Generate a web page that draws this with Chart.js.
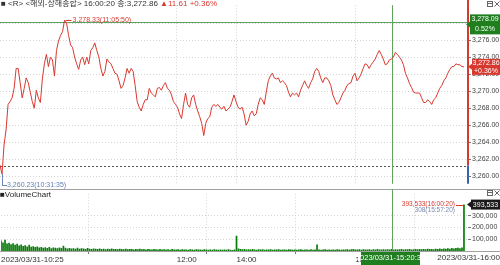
<!DOCTYPE html>
<html>
<head>
<meta charset="utf-8">
<script src="https://cdn.jsdelivr.net/npm/chart.js@4.4.0/dist/chart.umd.min.js"></script>
<style>
html, body { margin: 0; padding: 0; background: #fff; overflow: hidden; }
#wrap { position: relative; width: 500px; height: 265px; }
#wrap canvas { position: absolute; left: 0; }
</style>
</head>
<body>
<div id="wrap">
  <canvas id="price" width="500" height="189" style="top:0"></canvas>
  <canvas id="vol" width="500" height="76" style="top:189px"></canvas>
</div>
<script>
// minute prices, 상해종합 2023/03/31
const prices = [
  3261.30, 3260.23, 3263.67, 3265.44, 3268.44, 3268.78,
  3269.22, 3270.33, 3272.67, 3272.67, 3271.00, 3269.22, 3270.33, 3271.56,
  3271.00, 3269.89, 3268.78, 3268.00, 3270.11, 3269.22, 3268.67, 3271.44, 3273.22, 3274.33,
  3272.89, 3274.00, 3273.67, 3271.78,
  3274.78, 3275.89, 3276.56, 3277.00, 3278.33, 3278.00, 3276.56, 3275.44, 3275.11, 3274.00,
  3273.22, 3272.56, 3273.67, 3274.00, 3273.11, 3274.00, 3273.22, 3274.78, 3275.11, 3275.67,
  3274.78, 3274.00, 3272.67, 3271.78, 3272.33, 3273.78, 3273.44,
  3273.22, 3272.67, 3272.11, 3272.00, 3271.22, 3270.33, 3270.67, 3271.56, 3272.67, 3272.11,
  3272.67, 3272.33, 3270.67, 3268.78, 3268.11, 3267.67, 3268.44, 3269.00, 3269.00, 3270.33,
  3269.78, 3269.56, 3269.33, 3270.33, 3270.44, 3270.11, 3270.67, 3271.00, 3270.33, 3270.11,
  3269.56, 3268.78, 3268.44, 3268.11, 3267.33, 3266.78, 3268.44, 3269.78, 3268.44, 3268.11,
  3269.22, 3269.56, 3268.44, 3267.67, 3267.00, 3266.22, 3264.78, 3266.22, 3266.78, 3267.00,
  3268.11, 3268.44, 3268.22, 3268.44, 3268.11, 3267.89, 3268.22, 3267.67, 3267.89, 3268.11,
  3268.78, 3269.56, 3268.78, 3268.11, 3267.89, 3268.11, 3267.33, 3266.00, 3266.44, 3267.33,
  3267.67, 3267.11, 3267.33, 3268.44, 3269.22, 3269.00, 3268.44, 3269.89, 3271.22, 3271.78,
  3272.11, 3271.56, 3271.44, 3271.56, 3271.00, 3271.22, 3271.00, 3270.67, 3269.89, 3269.33,
  3269.78, 3269.56, 3269.78, 3269.33, 3270.11, 3270.67, 3271.22, 3270.67, 3270.33, 3271.00,
  3271.44, 3272.33, 3272.67, 3272.33, 3271.56, 3271.00, 3271.56, 3271.56, 3271.22, 3270.67,
  3269.56, 3269.00, 3268.44, 3268.67, 3269.22, 3269.78, 3270.11, 3270.67,
  3270.89, 3271.00, 3271.78, 3272.11, 3271.22, 3271.56, 3272.00, 3272.67, 3273.22, 3273.11,
  3272.67, 3273.11, 3273.44, 3273.78, 3274.33, 3274.78, 3274.33, 3273.78, 3273.11, 3273.22,
  3273.67, 3273.78, 3274.00, 3274.56, 3274.33, 3274.00, 3273.67, 3273.11, 3272.11, 3271.56,
  3270.89, 3270.44, 3269.89, 3269.78, 3269.78, 3269.78, 3269.22, 3268.67, 3268.67, 3269.00,
  3268.78, 3268.44, 3269.00, 3269.22, 3269.78, 3270.33, 3270.67, 3271.22, 3271.56, 3272.11,
  3272.56, 3272.89, 3272.89, 3273.22, 3273.11, 3273.11, 3272.89, 3272.86
];

const volumes = [
  88000, 72000, 95000, 64000, 70000, 58000, 66000, 52000, 61000, 47000,
  55000, 43000, 49000, 38000, 52000, 36000, 41000, 33000, 39000, 30000,
  34000, 28000, 31000, 26000, 33000, 24000, 29000, 27000, 23000, 30000,
  25000, 45000, 28000, 22000, 26000, 21000, 24000, 20000, 27000, 19000,
  23000, 21000, 18000, 25000, 20000, 17000, 22000, 19000, 16000, 21000,
  18000, 20000, 15000, 19000, 17000, 22000, 16000, 18000, 14000, 20000,
  17000, 15000, 19000, 14000, 18000, 16000, 13000, 17000, 15000, 19000,
  14000, 16000, 12000, 18000, 15000, 13000, 17000, 14000, 12000, 16000,
  13000, 15000, 12000, 14000, 11000, 16000, 13000, 12000, 15000, 11000,
  14000, 12000, 13000, 11000, 15000, 12000, 10000, 14000, 12000, 13000,
  11000, 15000, 12000, 10000, 13000, 11000, 14000, 12000, 10000, 13000,
  11000, 12000, 10000, 14000, 11000, 9000, 12000,
  130000,
  22000, 16000, 14000, 18000, 13000, 15000, 12000, 16000, 13000, 11000, 15000, 12000,
  14000, 11000, 13000, 12000, 15000, 10000, 13000, 12000, 14000, 11000,
  13000, 12000, 10000, 14000, 12000, 11000, 13000, 10000, 12000, 14000,
  11000, 13000, 12000, 10000, 14000, 11000, 12000, 55000, 13000, 11000,
  12000, 14000, 10000, 13000, 11000, 12000, 10000, 14000, 12000, 11000,
  13000, 12000, 15000, 11000, 14000, 16000, 13000, 12000, 15000, 11000,
  14000, 12000, 13000, 15000, 11000, 14000, 12000, 16000, 13000, 12000,
  15000, 13000, 14000, 12000, 16000, 13000, 15000, 12000, 14000, 16000,
  13000, 15000, 14000, 17000, 12000, 15000, 16000, 14000, 18000, 15000,
  17000, 14000, 19000, 16000, 18000, 15000, 20000, 17000, 22000, 18000,
  21000, 19000, 24000, 20000, 26000, 22000, 25000, 28000, 24000, 30000,
  393533
];

const xTickIdx = [0, 87.3, 117, 176];
const xTickLabels = ['2023/03/31-10:25', '12:00', '14:00', '15:00'];
const priceTicks = [3260, 3262, 3264, 3266, 3268, 3270, 3272, 3274, 3276, 3278];
const volTicks = [100000, 200000, 300000];

const prevClose = 3261.25;
const lastPrice = 3272.86;
const crossPrice = 3278.09;
const crossIdx = 194.3;
const xMax = 232;

const RED = '#d8392f', BLUE = '#3a62b0', GREEN_LINE = '#5da35d', GREEN_BOX = '#1f7f1f';
const FONT = '"Liberation Sans", Arial, "Noto Sans CJK KR", sans-serif';

Chart.defaults.font.family = FONT;
Chart.defaults.animation = false;

function hLine(ctx, x1, x2, y) { ctx.beginPath(); ctx.moveTo(x1, y); ctx.lineTo(x2, y); ctx.stroke(); }
function vLine(ctx, x, y1, y2) { ctx.beginPath(); ctx.moveTo(x, y1); ctx.lineTo(x, y2); ctx.stroke(); }

// box on the right axis with little arrow to the left
function axisBox(ctx, x, yTop, h, color, lines, size) {
  ctx.fillStyle = color;
  ctx.fillRect(x, yTop, 500 - x, h);
  ctx.beginPath();
  ctx.moveTo(x, yTop + h / 2 - 3); ctx.lineTo(x - 4, yTop + h / 2); ctx.lineTo(x, yTop + h / 2 + 3);
  ctx.fill();
  ctx.fillStyle = '#fff';
  ctx.font = size + 'px ' + FONT;
  ctx.textAlign = 'center'; ctx.textBaseline = 'middle';
  const step = h / lines.length;
  lines.forEach((t, i) => ctx.fillText(t, x + (500 - x) / 2, yTop + step * (i + 0.5)));
}

function icons(ctx, y) {
  ctx.strokeStyle = '#666'; ctx.lineWidth = 1;
  ctx.strokeRect(487.5, y + 0.5, 5, 5);
  hLine(ctx, 488, 492, y + 2.5);
  ctx.beginPath();
  ctx.moveTo(494.5, y + 0.5); ctx.lineTo(499.5, y + 5.5);
  ctx.moveTo(499.5, y + 0.5); ctx.lineTo(494.5, y + 5.5);
  ctx.stroke();
}

const xGridColor = c => (c.tick && c.tick.value === 0) ? 'rgba(0,0,0,0)' : '#d4d4d4';

const priceDeco = {
  id: 'priceDeco',
  beforeDatasetsDraw(chart) {
    const { ctx, chartArea: a, scales: { x, y } } = chart;
    ctx.save();
    ctx.lineWidth = 1;
    ctx.strokeStyle = '#555';
    ctx.setLineDash([2, 2]);
    const yc = Math.round(y.getPixelForValue(prevClose)) + 0.5;
    hLine(ctx, a.left, a.right, yc);
    ctx.setLineDash([]);
    ctx.strokeStyle = GREEN_LINE;
    const yg = Math.round(y.getPixelForValue(crossPrice)) + 0.5;
    hLine(ctx, a.left, a.right, yg);
    const xg = Math.round(x.getPixelForValue(crossIdx)) + 0.5;
    vLine(ctx, xg, a.top, a.bottom);
    ctx.restore();
  },
  afterDraw(chart) {
    const { ctx, chartArea: a, scales: { x, y } } = chart;
    ctx.save();
    // title
    ctx.font = '8px ' + FONT;
    ctx.textBaseline = 'middle'; ctx.textAlign = 'left';
    const t1 = '■ <R> <해외-상해종합> 16:00:20 종:3,272.86 ';
    ctx.fillStyle = '#333';
    ctx.fillText(t1, 1, 4);
    ctx.fillStyle = RED;
    ctx.fillText('▲11.61 +0.36%', 1 + ctx.measureText(t1).width, 4);

    // high / low labels
    const hi = Math.max(...prices), lo = Math.min(...prices);
    const hiI = prices.indexOf(hi), loI = prices.indexOf(lo);
    const hx = x.getPixelForValue(hiI), hy = y.getPixelForValue(hi);
    ctx.strokeStyle = RED; ctx.lineWidth = 1;
    hLine(ctx, hx + 1, hx + 7, Math.round(hy) + 0.5);
    ctx.fillStyle = RED; ctx.font = '7px ' + FONT;
    ctx.fillText('3,278.33(11:05:50)', hx + 8, hy);
    const lx = x.getPixelForValue(loI), ly = y.getPixelForValue(lo);
    ctx.strokeStyle = '#6b86b8';
    vLine(ctx, Math.round(lx) + 0.5, ly, 185);
    hLine(ctx, lx, lx + 5, 185.5);
    ctx.fillStyle = '#5f7fb5';
    ctx.fillText('3,260.23(10:31:35)', lx + 5, 185);

    // axis line: red above prev close, blue below
    const yc = y.getPixelForValue(prevClose);
    ctx.lineWidth = 2;
    ctx.strokeStyle = RED; vLine(ctx, a.right, 0, yc);
    ctx.strokeStyle = BLUE; vLine(ctx, a.right, yc, a.bottom);

    axisBox(ctx, a.right + 2, y.getPixelForValue(crossPrice) - 8, 20, GREEN_BOX, ['3,278.09', '0.52%'], 7);
    axisBox(ctx, a.right + 4, y.getPixelForValue(lastPrice) - 8, 16, RED, ['3,272.86', '+0.36%'], 7);
    icons(ctx, 1);
    ctx.restore();
  }
};

new Chart(document.getElementById('price'), {
  type: 'line',
  data: {
    datasets: [{
      data: prices.map((v, i) => ({ x: i, y: v })),
      borderColor: RED,
      borderWidth: 1,
      pointRadius: 0,
      tension: 0,
      segment: {
        borderColor: c => (c.p0.parsed.y < prevClose && c.p1.parsed.y < prevClose + 2) ? BLUE : RED
      }
    }]
  },
  options: {
    responsive: false,
    layout: { padding: 0 },
    plugins: { legend: { display: false }, tooltip: { enabled: false } },
    scales: {
      x: {
        type: 'linear', min: 0, max: xMax,
        afterBuildTicks: s => { s.ticks = xTickIdx.map(v => ({ value: v })); },
        afterFit: s => { s.height = 0; },
        ticks: { display: false },
        grid: { color: xGridColor, drawTicks: false },
        border: { display: false, dash: [1, 2] }
      },
      y: {
        position: 'right', min: 3259.11, max: 3280.11,
        afterBuildTicks: s => { s.ticks = priceTicks.map(v => ({ value: v })); },
        afterFit: s => { s.width = 32; },
        ticks: {
          color: '#444', font: { size: 7 }, padding: 1,
          callback: v => v.toLocaleString('en-US', { minimumFractionDigits: 2, maximumFractionDigits: 2 })
        },
        grid: { color: '#d4d4d4', tickLength: 3, tickColor: '#777' },
        border: { display: false, dash: [1, 2] }
      }
    }
  },
  plugins: [priceDeco]
});

const volDeco = {
  id: 'volDeco',
  afterDraw(chart) {
    const { ctx, chartArea: a, scales: { x, y } } = chart;
    ctx.save();
    ctx.lineWidth = 1;
    ctx.strokeStyle = '#a0a0a0';
    hLine(ctx, 0, 500, 0.5);
    hLine(ctx, 0, 500, Math.round(a.bottom) + 0.5);
    ctx.strokeStyle = GREEN_LINE;
    const xg = Math.round(x.getPixelForValue(crossIdx)) + 0.5;
    vLine(ctx, xg, 0, a.bottom);

    ctx.fillStyle = '#222'; ctx.font = '8px ' + FONT;
    ctx.textAlign = 'left'; ctx.textBaseline = 'middle';
    ctx.fillText('■VolumeChart', 0, 6);

    // last volume labels
    const lastV = volumes[volumes.length - 1];
    const ly = y.getPixelForValue(lastV);
    ctx.font = '6.5px ' + FONT; ctx.textAlign = 'right';
    ctx.fillStyle = RED;
    ctx.fillText('393,533(16:00:20)', a.right - 13, ly);
    ctx.strokeStyle = RED;
    hLine(ctx, a.right - 12, a.right - 5, Math.round(ly) + 0.5);
    ctx.fillStyle = '#7788aa';
    ctx.fillText('308(15:57:20)', a.right - 13, ly + 6);

    axisBox(ctx, a.right + 3, ly - 5, 10, '#1a1a1a', ['393,533'], 7);
    icons(ctx, 1);

    // bottom date labels
    ctx.font = '8px ' + FONT; ctx.textBaseline = 'middle';
    ctx.fillStyle = '#333'; ctx.textAlign = 'right';
    ctx.fillText('2023/03/31-16:00', 500, 69);
    ctx.fillStyle = GREEN_BOX;
    ctx.fillRect(361, a.bottom + 1, 59, 76 - a.bottom);
    ctx.fillStyle = '#fff'; ctx.textAlign = 'center';
    ctx.font = '7.5px ' + FONT;
    ctx.fillText('2023/03/31-15:20:35', 390.5, 69);
    ctx.restore();
  }
};

new Chart(document.getElementById('vol'), {
  type: 'bar',
  data: {
    datasets: [{
      data: volumes.map((v, i) => ({ x: i, y: v })),
      backgroundColor: '#0b7d0b',
      barPercentage: 0.85,
      categoryPercentage: 1
    }]
  },
  options: {
    responsive: false,
    layout: { padding: { top: 1 } },
    plugins: { legend: { display: false }, tooltip: { enabled: false } },
    scales: {
      x: {
        type: 'linear', min: 0, max: xMax, offset: false,
        afterBuildTicks: s => { s.ticks = xTickIdx.map(v => ({ value: v })); },
        afterFit: s => { s.height = 14; },
        ticks: {
          autoSkip: false, maxRotation: 0, align: 'start', padding: 1,
          color: '#333', font: { size: 8 },
          callback: (v, i) => xTickLabels[i]
        },
        grid: { color: xGridColor, tickLength: 3, tickColor: '#777' },
        border: { display: false, dash: [1, 2] }
      },
      y: {
        position: 'right', min: 0, max: 481600,
        afterBuildTicks: s => { s.ticks = volTicks.map(v => ({ value: v })); },
        afterFit: s => { s.width = 32; },
        ticks: {
          color: '#444', font: { size: 7 }, padding: 1,
          callback: v => v.toLocaleString('en-US')
        },
        grid: { color: '#d4d4d4', tickLength: 3, tickColor: '#777' },
        border: { display: false, dash: [1, 2] }
      }
    }
  },
  plugins: [volDeco]
});
</script>
</body>
</html>
